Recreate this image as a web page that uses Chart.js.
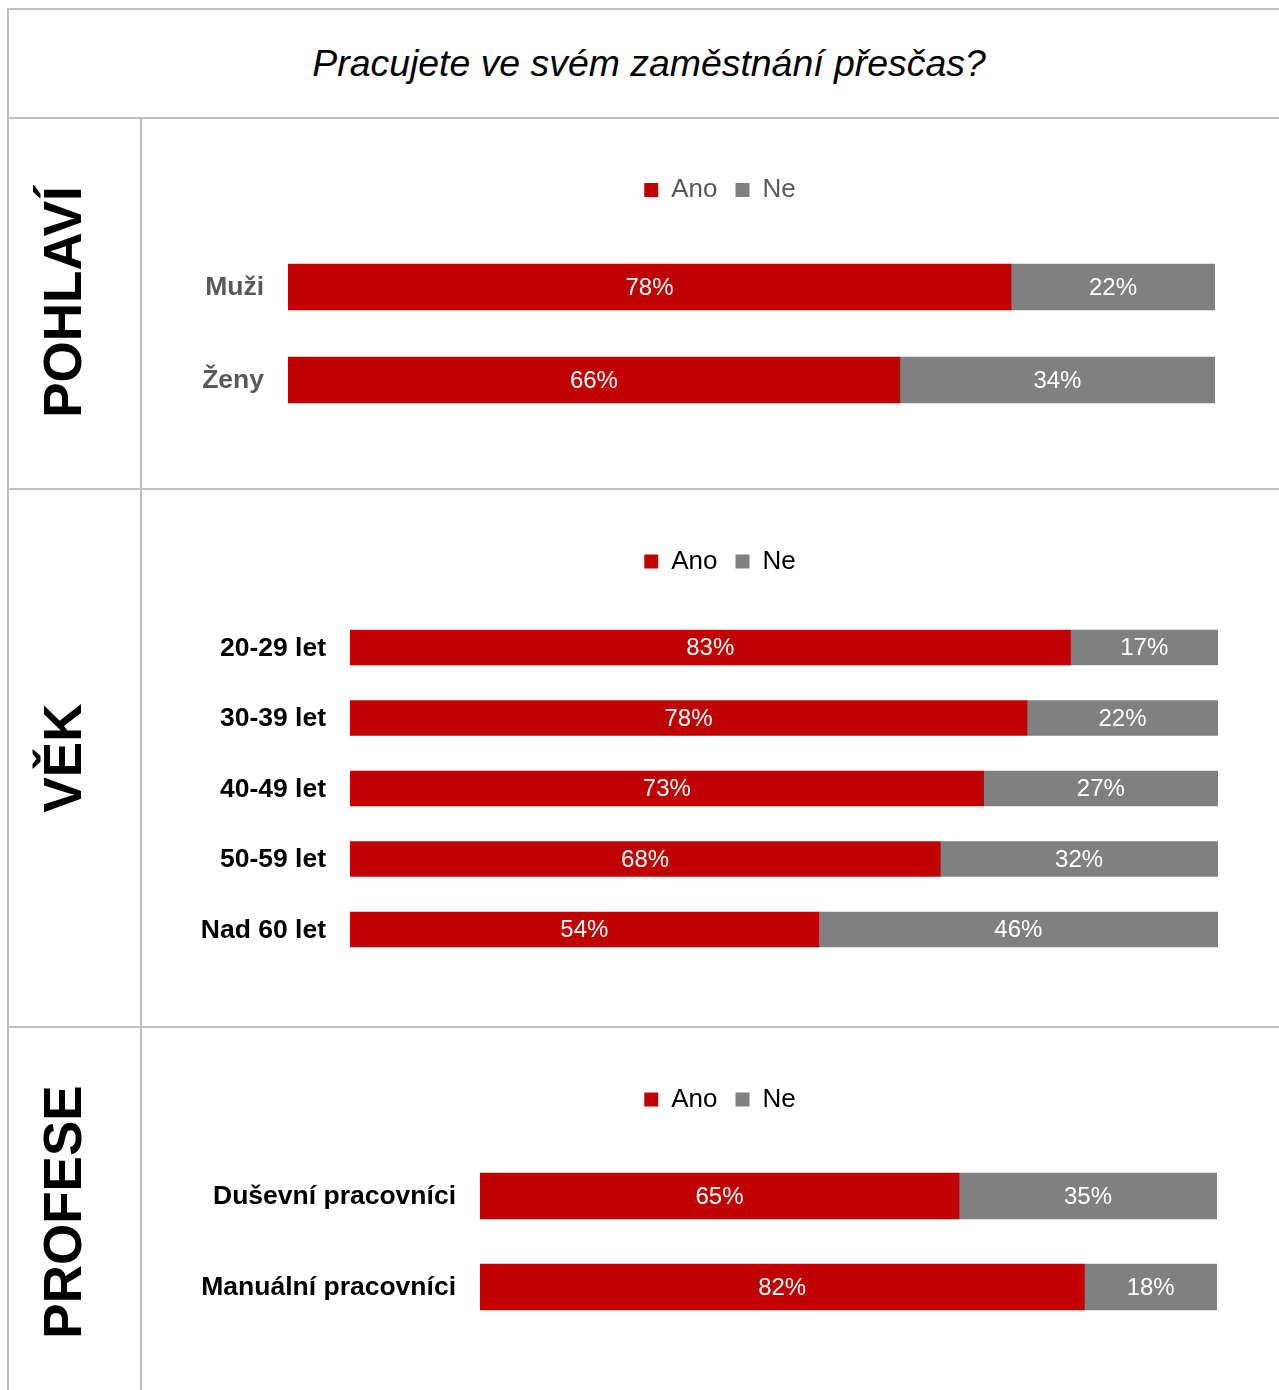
<!DOCTYPE html>
<html lang="cs">
<head>
<meta charset="utf-8">
<title>Pracujete ve svém zaměstnání přesčas?</title>
<script src="https://cdn.jsdelivr.net/npm/chart.js@4.4.1/dist/chart.umd.min.js"></script>
<style>
  html, body { margin: 0; padding: 0; background: #fff; overflow: hidden; }
  #page { position: relative; width: 1279px; height: 1390px; overflow: hidden; font-family: "Liberation Sans", Arial, sans-serif; }
  .rule { position: absolute; background: #bfbfbf; }
  #title { position: absolute; left: 9px; top: 10px; width: 1280px; height: 107px; line-height: 107px;
           text-align: center; font-style: italic; font-size: 37.4px; color: #000; white-space: nowrap; }
  .side { position: absolute; transform: translate(-50%, -50%) rotate(-90deg); font-weight: bold;
          font-size: 53px; line-height: 1; color: #000; white-space: nowrap; }
  canvas { position: absolute; left: 142px; }
</style>
</head>
<body>
<div id="page">
  <!-- table grid -->
  <div class="rule" style="left:7px;top:8px;width:1300px;height:2px"></div>
  <div class="rule" style="left:7px;top:8px;width:2px;height:1400px"></div>
  <div class="rule" style="left:7px;top:117px;width:1300px;height:2px"></div>
  <div class="rule" style="left:7px;top:488px;width:1300px;height:2px"></div>
  <div class="rule" style="left:7px;top:1026px;width:1300px;height:2px"></div>
  <div class="rule" style="left:140px;top:117px;width:2px;height:1400px"></div>

  <div id="title">Pracujete ve svém zaměstnání přesčas?</div>

  <div class="side" style="left:62px;top:302px">POHLAVÍ</div>
  <div class="side" style="left:62px;top:758px">VĚK</div>
  <div class="side" style="left:62px;top:1212px">PROFESE</div>

  <canvas id="chartGender" width="1156" height="369" style="top:119px"></canvas>
  <canvas id="chartAge" width="1156" height="536" style="top:490px"></canvas>
  <canvas id="chartJob" width="1156" height="362" style="top:1028px"></canvas>
</div>

<script>
// Series labels
const seriesNames = ['Ano', 'Ne'];

// Gender
const genderCategories = ['Muži', 'Ženy'];
const genderYes = [78, 66];
const genderNo = [22, 34];

// Age groups
const ageCategories = ['20-29 let', '30-39 let', '40-49 let', '50-59 let', 'Nad 60 let'];
const ageYes = [83, 78, 73, 68, 54];
const ageNo = [17, 22, 27, 32, 46];

// Profession
const jobCategories = ['Duševní pracovníci', 'Manuální pracovníci'];
const jobYes = [65, 82];
const jobNo = [35, 18];

const FONT = '"Liberation Sans", Arial, sans-serif';
const RED = '#c00000';
const GREY = '#808080';

// White percentage text centred in every bar segment
const barValueLabels = {
  id: 'barValueLabels',
  afterDatasetsDraw(chart) {
    const ctx = chart.ctx;
    ctx.save();
    ctx.font = '24px ' + FONT;
    ctx.fillStyle = '#ffffff';
    ctx.textAlign = 'center';
    ctx.textBaseline = 'middle';
    chart.data.datasets.forEach((ds, i) => {
      chart.getDatasetMeta(i).data.forEach((bar, j) => {
        const p = bar.getProps(['x', 'y', 'base'], true);
        ctx.fillText(ds.data[j] + '%', (p.x + p.base) / 2, p.y + 1);
      });
    });
    ctx.restore();
  }
};

// Extra space between the legend row and the bars
const legendGap = {
  id: 'legendGap',
  beforeInit(chart, args, opts) {
    const legend = chart.legend;
    if (!legend) return;
    const fit = legend.fit;
    legend.fit = function () {
      fit.call(this);
      this.height += opts.gap || 0;
    };
  }
};

function buildChart(id, categories, yes, no, cfg) {
  return new Chart(document.getElementById(id), {
    type: 'bar',
    data: {
      labels: categories,
      datasets: [
        { label: seriesNames[0], data: yes, backgroundColor: RED, borderWidth: 0, barThickness: cfg.thickness },
        { label: seriesNames[1], data: no, backgroundColor: GREY, borderWidth: 0, barThickness: cfg.thickness }
      ]
    },
    options: {
      indexAxis: 'y',
      responsive: false,
      animation: false,
      layout: { padding: cfg.padding },
      scales: {
        x: { stacked: true, min: 0, max: 100, display: false },
        y: {
          stacked: true,
          grid: { display: false, drawTicks: false },
          border: { display: false },
          ticks: { padding: 24, labelOffset: 1, color: cfg.labelColor, font: { family: FONT, size: 26.5, weight: 'bold' } },
          afterFit(scale) { scale.width = cfg.axisWidth; }
        },
        // empty right-hand margin so the legend sits centred over the whole cell
        yMargin: {
          type: 'category',
          position: 'right',
          grid: { display: false, drawTicks: false },
          border: { display: false },
          ticks: { display: false },
          afterFit(scale) { scale.width = cfg.marginWidth; }
        }
      },
      plugins: {
        legend: {
          position: 'top',
          labels: {
            boxWidth: 14, boxHeight: 14, padding: 18,
            color: cfg.legendColor,
            font: { family: FONT, size: 26 }
          }
        },
        legendGap: { gap: cfg.gap },
        tooltip: { enabled: false }
      }
    },
    plugins: [barValueLabels, legendGap]
  });
}

buildChart('chartGender', genderCategories, genderYes, genderNo, {
  thickness: 46, axisWidth: 146, marginWidth: 83, gap: 27.5,
  padding: { left: 0, right: 0, top: 40, bottom: 61.5 },
  labelColor: '#595959', legendColor: '#595959'
});

buildChart('chartAge', ageCategories, ageYes, ageNo, {
  thickness: 35, axisWidth: 208, marginWidth: 80, gap: 27.75,
  padding: { left: 0, right: 0, top: 40.5, bottom: 61.25 },
  labelColor: '#000000', legendColor: '#000000'
});

buildChart('chartJob', jobCategories, jobYes, jobNo, {
  thickness: 46, axisWidth: 338, marginWidth: 81, gap: 28,
  padding: { left: 0, right: 0, top: 40.5, bottom: 57.5 },
  labelColor: '#000000', legendColor: '#000000'
});
</script>
</body>
</html>
